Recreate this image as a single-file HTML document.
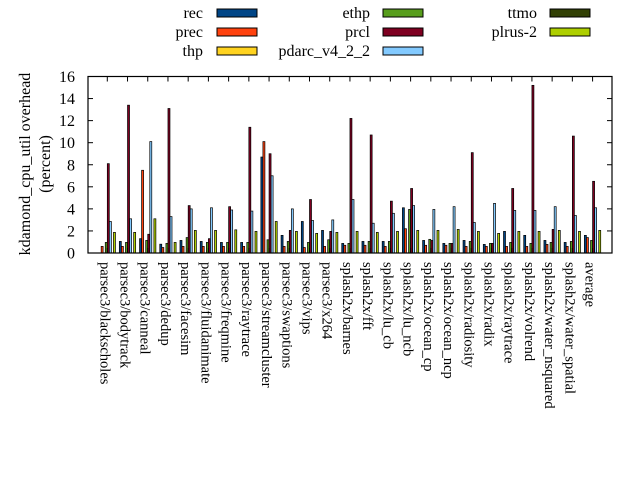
<!DOCTYPE html>
<html><head><meta charset="utf-8"><style>
body{margin:0;background:#fff;width:640px;height:480px;overflow:hidden}
svg text{font-family:"Liberation Serif",serif;fill:#000}
</style></head><body>
<svg id="s" width="640" height="480" xmlns="http://www.w3.org/2000/svg"></svg>
<script>
var s=document.getElementById('s'),h='';
var L=88,R=612,T=76.5,B=253,py=(B-T)/16;
var cols=['#004586','#ff420e','#ffd320','#579d1c','#7e0021','#83caff','#314004','#aecf00'];
var names=['parsec3/blackscholes','parsec3/bodytrack','parsec3/canneal','parsec3/dedup','parsec3/facesim','parsec3/fluidanimate','parsec3/freqmine','parsec3/raytrace','parsec3/streamcluster','parsec3/swaptions','parsec3/vips','parsec3/x264','splash2x/barnes','splash2x/fft','splash2x/lu_cb','splash2x/lu_ncb','splash2x/ocean_cp','splash2x/ocean_ncp','splash2x/radiosity','splash2x/radix','splash2x/raytrace','splash2x/volrend','splash2x/water_nsquared','splash2x/water_spatial','average'];
// rec,prec,ethp,prcl,pdarc,plrus
var d=[[0,0.6,0.96,8.1,2.86,1.87],[1.05,0.6,0.96,13.4,3.1,1.87],[1.3,7.5,1.14,1.7,10.1,3.1],[0.8,0.5,0.87,13.1,3.3,0.96],[1.14,0.6,1.4,4.3,4.0,2.05],[1.05,0.6,0.96,1.3,4.1,2.05],[0.96,0.6,0.96,4.2,3.9,2.1],[0.96,0.6,0.96,11.4,3.8,1.96],[8.7,10.1,1.2,9.0,7.0,2.86],[1.6,0.6,1.05,2.05,4.0,1.96],[2.86,0.5,0.96,4.85,2.95,1.78],[2.05,0.6,1.2,1.96,3.0,1.87],[0.87,0.7,0.87,12.2,4.85,1.96],[1.05,0.7,1.05,10.7,2.7,1.87],[1.05,0.6,1.05,4.7,3.6,1.96],[4.1,2.2,3.95,5.85,4.3,2.05],[1.14,0.7,1.24,1.14,3.95,2.05],[0.87,0.7,0.87,0.87,4.2,2.14],[1.14,0.6,1.05,9.1,2.77,1.96],[0.78,0.6,0.87,0.87,4.5,1.78],[1.96,0.6,0.96,5.85,3.86,1.96],[1.6,0.6,0.87,15.2,3.86,1.96],[1.14,0.78,0.96,2.14,4.2,2.05],[0.96,0.6,1.05,10.6,3.4,1.96],[1.6,1.4,1.14,6.5,4.1,2.05]];
var idx=[0,1,3,4,5,7];
for(var i=0;i<25;i++){
 var c=107.3+i*20.22;
 for(var j=0;j<6;j++){var v=d[i][j];if(v<=0)continue;var k=idx[j];
  var x=c+(k-4)*2.05,y=B-v*py;
  h+='<rect x="'+x.toFixed(2)+'" y="'+y.toFixed(2)+'" width="2" height="'+(v*py).toFixed(2)+'" fill="'+cols[k]+'" stroke="#000" stroke-width="0.7"/>';}
 h+='<line x1="'+c+'" y1="'+T+'" x2="'+c+'" y2="'+(T+5)+'" stroke="#000"/>';
 h+='<line x1="'+c+'" y1="'+B+'" x2="'+c+'" y2="'+(B-5)+'" stroke="#000"/>';
 h+='<text font-size="14.5" transform="translate('+(c-7)+',262) rotate(90)">'+names[i]+'</text>';
}
for(var t=0;t<=16;t+=2){var y=B-t*py;
 h+='<line x1="'+L+'" y1="'+y+'" x2="'+(L+5)+'" y2="'+y+'" stroke="#000"/><line x1="'+R+'" y1="'+y+'" x2="'+(R-5)+'" y2="'+y+'" stroke="#000"/>';
 h+='<text x="75" y="'+(y+5.5)+'" font-size="16" text-anchor="end">'+t+'</text>';}
h+='<rect x="'+L+'" y="'+T+'" width="'+(R-L)+'" height="'+(B-T)+'" fill="none" stroke="#000" stroke-width="1.2"/>';
h+='<text font-size="16" text-anchor="middle" transform="translate(30,164) rotate(-90)">kdamond_cpu_util overhead</text>';
h+='<text font-size="16" text-anchor="middle" transform="translate(50,164) rotate(-90)">(percent)</text>';
var leg=[['rec',203,217,13,0],['prec',203,217,32,1],['thp',203,217,51,2],['ethp',370,383,13,3],['prcl',370,383,32,4],['pdarc_v4_2_2',370,383,51,5],['ttmo',537,550,13,6],['plrus-2',537,550,32,7]];
leg.forEach(function(l){h+='<text x="'+l[1]+'" y="'+(l[3]+5)+'" font-size="16" text-anchor="end">'+l[0]+'</text><rect x="'+l[2]+'" y="'+(l[3]-4)+'" width="40" height="8" fill="'+cols[l[4]]+'" stroke="#000" stroke-width="1"/>';});
s.innerHTML=h;
</script>
</body></html>
